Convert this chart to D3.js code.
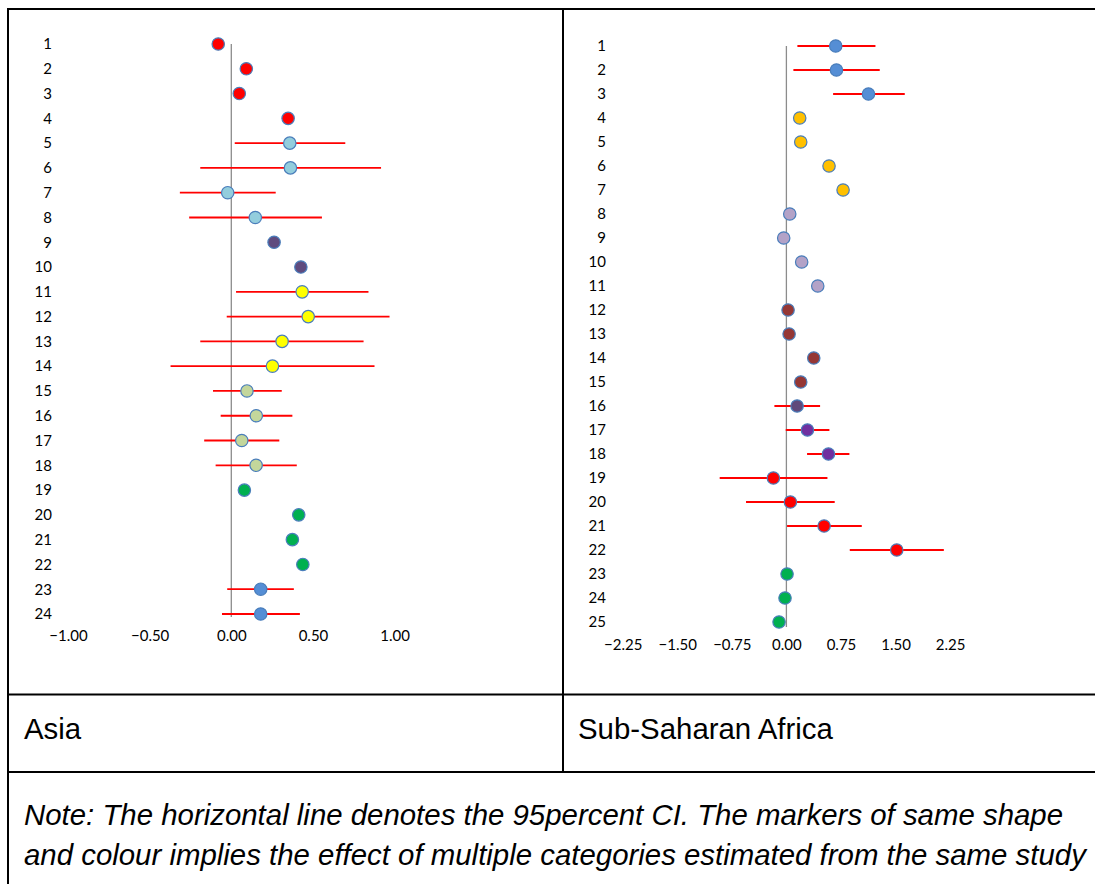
<!DOCTYPE html>
<html>
<head>
<meta charset="utf-8">
<script src="https://cdn.jsdelivr.net/npm/d3@7"></script>
<style>
  html, body { margin: 0; padding: 0; background: #fff; }
  svg { display: block; }
</style>
</head>
<body>
<svg id="chart" width="1095" height="884"></svg>
<script>
// ---------------- DATA ----------------
// Asia panel
const asiaRows  = d3.range(1, 25);
const asiaEst   = [-0.080, 0.092, 0.049, 0.348, 0.358, 0.362, -0.022, 0.147, 0.262, 0.426, 0.434, 0.471,
                   0.311, 0.252, 0.096, 0.153, 0.064, 0.152, 0.080, 0.413, 0.374, 0.438, 0.180, 0.180];
const asiaLo    = [null, null, null, null, 0.021, -0.190, -0.315, -0.258, null, null, 0.029, -0.028,
                   -0.190, -0.372, -0.112, -0.065, -0.166, -0.096, null, null, null, null, -0.025, -0.057];
const asiaHi    = [null, null, null, null, 0.698, 0.917, 0.272, 0.555, null, null, 0.840, 0.969,
                   0.810, 0.877, 0.309, 0.374, 0.294, 0.401, null, null, null, null, 0.383, 0.420];
const asiaStudy = ["A1","A1","A1","A1","A2","A2","A2","A2","A3","A3","A4","A4",
                   "A4","A4","A5","A5","A5","A5","A6","A6","A6","A6","A7","A7"];
const asiaTicks = [-1.00, -0.50, 0.00, 0.50, 1.00];

// Sub-Saharan Africa panel
const ssaRows  = d3.range(1, 26);
const ssaEst   = [0.678, 0.688, 1.128, 0.183, 0.197, 0.586, 0.779, 0.046, -0.037, 0.210, 0.431, 0.023,
                  0.037, 0.376, 0.197, 0.147, 0.289, 0.578, -0.179, 0.055, 0.518, 1.517, 0.009, -0.019, -0.101];
const ssaLo    = [0.151, 0.096, 0.642, null, null, null, null, null, null, null, null, null,
                  null, null, null, -0.165, -0.009, 0.284, -0.917, -0.555, 0.009, 0.871, null, null, null];
const ssaHi    = [1.224, 1.283, 1.627, null, null, null, null, null, null, null, null, null,
                  null, null, null, 0.463, 0.591, 0.866, 0.564, 0.664, 1.036, 2.164, null, null, null];
const ssaStudy = ["S1","S1","S1","S2","S2","S2","S2","S3","S3","S3","S3","S4",
                  "S4","S4","S4","S5","S6","S6","S7","S7","S7","S7","S8","S8","S8"];
const ssaTicks = [-2.25, -1.50, -0.75, 0.00, 0.75, 1.50, 2.25];

const panelLabels = ["Asia", "Sub-Saharan Africa"];
const noteLines = [
  "Note: The horizontal line denotes the 95percent CI. The markers of same shape",
  "and colour implies the effect of multiple categories estimated from the same study"
];

// ---------------- STYLE ----------------
const studyColor = d3.scaleOrdinal()
  .domain(["A1","A2","A3","A4","A5","A6","A7","S1","S2","S3","S4","S5","S6","S7","S8"])
  .range(["#FF0000","#93CDDD","#5F4B7E","#FFFF00","#C3D69B","#00B050","#558ED5",
          "#558ED5","#FFC000","#B3A2C7","#953735","#604A7B","#7030A0","#FF0000","#00B050"]);

const svg = d3.select("#chart");
svg.append("rect").attr("width", 1095).attr("height", 884).attr("fill", "#fff");

const tickFont = "Lato, 'Liberation Sans', sans-serif";

function drawPanel(cfg) {
  const x = d3.scaleLinear().domain(cfg.xDomain).range(cfg.xRange);
  const y = d3.scaleLinear().domain([1, cfg.rows.length]).range(cfg.yRange);
  const g = svg.append("g");

  // vertical zero line
  g.append("line")
    .attr("x1", x(0)).attr("x2", x(0))
    .attr("y1", y(1)).attr("y2", y(cfg.rows.length) + cfg.lineExtra)
    .attr("stroke", "#8C8C8C").attr("stroke-width", 1.3);

  // x axis labels
  const xAxis = d3.axisBottom(x).tickValues(cfg.ticks).tickFormat(d3.format(".2f")).tickSize(0).tickPadding(0);
  const gx = g.append("g").attr("transform", `translate(0,${cfg.xLabelY})`).call(xAxis);
  gx.select(".domain").remove();
  gx.selectAll("text").attr("font-family", tickFont).attr("font-size", 15).attr("fill", "#000")
    .attr("dy", "0.35em").attr("y", 0);

  // y axis (row numbers)
  const yAxis = d3.axisLeft(y).tickValues(cfg.rows).tickFormat(d3.format("d")).tickSize(0).tickPadding(0);
  const gy = g.append("g").attr("transform", `translate(${cfg.yLabelX},0)`).call(yAxis);
  gy.select(".domain").remove();
  gy.selectAll("text").attr("font-family", tickFont).attr("font-size", 15).attr("fill", "#000");

  const data = cfg.rows.map((r, i) => ({ r, est: cfg.est[i], lo: cfg.lo[i], hi: cfg.hi[i], s: cfg.study[i] }));

  // CI lines
  g.selectAll(".ci").data(data.filter(d => d.lo !== null)).join("line")
    .attr("x1", d => x(d.lo)).attr("x2", d => x(d.hi))
    .attr("y1", d => y(d.r)).attr("y2", d => y(d.r))
    .attr("stroke", "#FF0000").attr("stroke-width", 1.8);

  // markers
  g.selectAll(".pt").data(data).join("circle")
    .attr("cx", d => x(d.est)).attr("cy", d => y(d.r)).attr("r", 6.2)
    .attr("fill", d => studyColor(d.s))
    .attr("stroke", "#4A7EBB").attr("stroke-width", 1.2);
}

drawPanel({
  rows: asiaRows, est: asiaEst, lo: asiaLo, hi: asiaHi, study: asiaStudy, ticks: asiaTicks,
  xDomain: [-1, 1], xRange: [68, 394.6], yRange: [44, 614], lineExtra: 3,
  xLabelY: 636, yLabelX: 52
});
drawPanel({
  rows: ssaRows, est: ssaEst, lo: ssaLo, hi: ssaHi, study: ssaStudy, ticks: ssaTicks,
  xDomain: [-2.25, 2.25], xRange: [622.7, 950.1], yRange: [46, 622], lineExtra: 5,
  xLabelY: 645, yLabelX: 606
});

// ---------------- TABLE FRAME ----------------
const border = svg.append("g").attr("stroke", "#000").attr("stroke-width", 2).attr("fill", "none");
border.append("line").attr("x1", 7).attr("x2", 1095).attr("y1", 9).attr("y2", 9);
border.append("line").attr("x1", 8).attr("x2", 8).attr("y1", 8).attr("y2", 884);
border.append("line").attr("x1", 563).attr("x2", 563).attr("y1", 8).attr("y2", 772);
border.append("line").attr("x1", 8).attr("x2", 1095).attr("y1", 694.5).attr("y2", 694.5);
border.append("line").attr("x1", 8).attr("x2", 1095).attr("y1", 772).attr("y2", 772);

const textFont = "'Liberation Sans', Arial, sans-serif";
svg.selectAll(".plabel").data(panelLabels).join("text")
  .attr("x", (d, i) => i === 0 ? 24 : 578).attr("y", 739)
  .attr("font-family", textFont).attr("font-size", 29.4).attr("fill", "#000")
  .text(d => d);

svg.selectAll(".note").data(noteLines).join("text")
  .attr("x", 24).attr("y", (d, i) => 825 + i * 40)
  .attr("font-family", textFont).attr("font-size", 29.4).attr("font-style", "italic").attr("fill", "#000")
  .text(d => d);
</script>
</body>
</html>
